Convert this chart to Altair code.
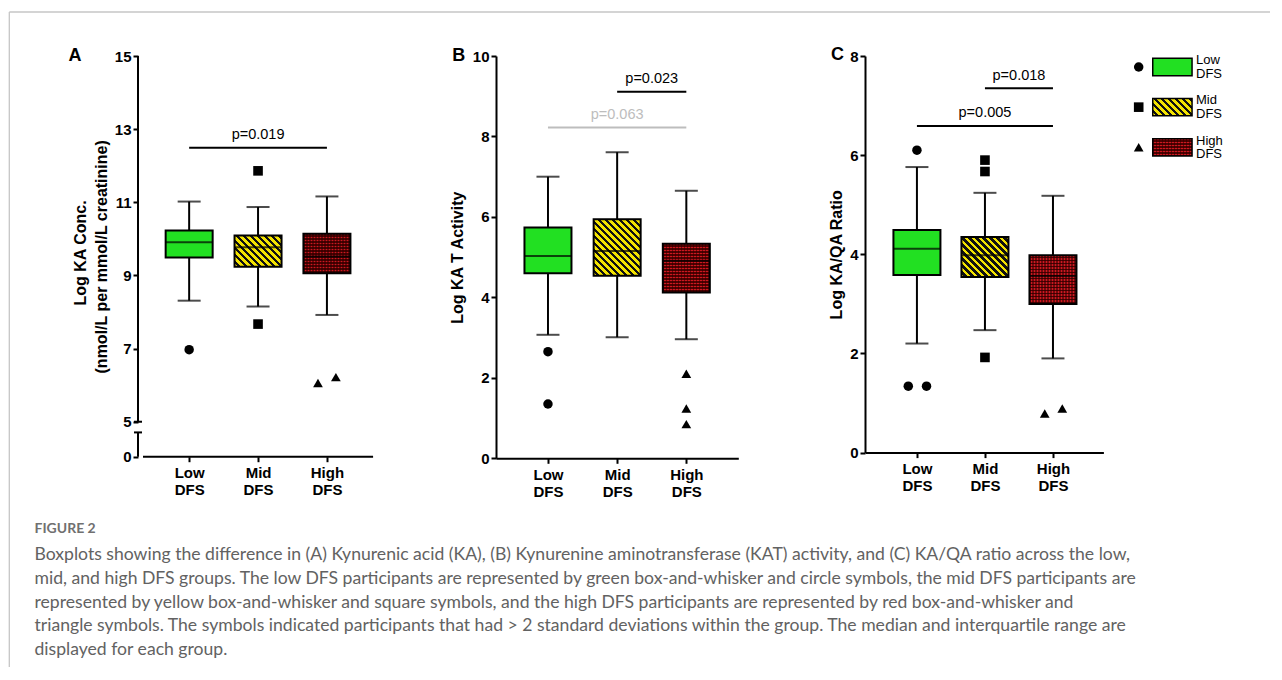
import json
import altair as alt
import pandas as pd

FONT = "Liberation Sans"
CAPTION_FONT = "Lato"

groups = ["Low DFS", "Mid DFS", "High DFS"]
group_pos = [1, 2, 3]
symbol_shapes = ["circle", "square", "triangle-up"]
symbol_sizes = [90, 95, 115]

# ---- Panel A: Log KA concentration ----
ka_whisker_low = [8.31, 8.15, 7.92]
ka_q1 = [9.49, 9.24, 9.06]
ka_median = [9.91, 9.77, 9.52]
ka_q3 = [10.23, 10.09, 10.14]
ka_whisker_high = [11.02, 10.87, 11.16]
ka_out_group = ["Low DFS", "Mid DFS", "Mid DFS", "High DFS", "High DFS"]
ka_out_value = [6.97, 11.86, 7.67, 6.06, 6.22]
ka_out_jitter = [0.0, 0.0, 0.0, -0.13, 0.13]
ka_pair_from = ["Low DFS"]
ka_pair_to = ["High DFS"]
ka_pair_y = [12.49]
ka_pair_text = ["p=0.019"]
ka_pair_tone = ["sig"]
ka_ticks = [0, 5, 7, 9, 11, 13, 15]
ka_title = ["Log KA Conc.", "(nmol/L per mmol/L creatinine)"]

# ---- Panel B: Log KAT activity ----
kat_whisker_low = [3.07, 3.01, 2.96]
kat_q1 = [4.60, 4.54, 4.12]
kat_median = [5.03, 5.15, 4.91]
kat_q3 = [5.74, 5.94, 5.33]
kat_whisker_high = [7.00, 7.61, 6.65]
kat_out_group = ["Low DFS", "Low DFS", "High DFS", "High DFS", "High DFS"]
kat_out_value = [2.65, 1.35, 2.10, 1.24, 0.85]
kat_out_jitter = [0.0, 0.0, 0.0, 0.0, 0.0]
kat_pair_from = ["Mid DFS", "Low DFS"]
kat_pair_to = ["High DFS", "High DFS"]
kat_pair_y = [9.11, 8.22]
kat_pair_text = ["p=0.023", "p=0.063"]
kat_pair_tone = ["sig", "ns"]
kat_ticks = [0, 2, 4, 6, 8, 10]
kat_title = "Log KA T Activity"

# ---- Panel C: Log KA/QA ratio ----
ratio_whisker_low = [2.20, 2.47, 1.90]
ratio_q1 = [3.58, 3.54, 3.00]
ratio_median = [4.11, 3.98, 3.56]
ratio_q3 = [4.49, 4.35, 3.98]
ratio_whisker_high = [5.76, 5.24, 5.18]
ratio_out_group = ["Low DFS", "Low DFS", "Low DFS", "Mid DFS", "Mid DFS", "Mid DFS", "High DFS", "High DFS"]
ratio_out_value = [6.10, 1.34, 1.34, 5.90, 5.67, 1.92, 0.79, 0.89]
ratio_out_jitter = [0.0, -0.127, 0.141, 0.0, 0.0, 0.0, -0.121, 0.137]
ratio_pair_from = ["Mid DFS", "Low DFS"]
ratio_pair_to = ["High DFS", "High DFS"]
ratio_pair_y = [7.35, 6.59]
ratio_pair_text = ["p=0.018", "p=0.005"]
ratio_pair_tone = ["sig", "sig"]
ratio_ticks = [0, 2, 4, 6, 8]
ratio_title = "Log KA/QA Ratio"

caption_header = "FIGURE 2"
caption_lines = [
    "Boxplots showing the difference in (A) Kynurenic acid (KA), (B) Kynurenine aminotransferase (KAT) activity, and (C) KA/QA ratio across the low,",
    "mid, and high DFS groups. The low DFS participants are represented by green box-and-whisker and circle symbols, the mid DFS participants are",
    "represented by yellow box-and-whisker and square symbols, and the high DFS participants are represented by red box-and-whisker and",
    "triangle symbols. The symbols indicated participants that had > 2 standard deviations within the group. The median and interquartile range are",
    "displayed for each group.",
]

# ---- styles ----
GREEN = "#22e022"
YELLOW = "#f3e300"
RED_LIGHT = "#cc1820"
RED_DARK = "#520000"
TONE_COLORS = ["black", "#bdbdbd"]
BOX_W = 47
CAP_W = 23
SPACING = 126
AXIS_TITLE_SIZE = 16
TICK_LABEL_SIZE = 15


def stripe_grad(W, H, period, ca, cb, frac=0.5):
    K = (W * W + H * H) / (W + H)
    N = (W + H) / period
    stops = []
    i = 0
    while i / N < 1:
        t0, t1, t2 = i / N, min((i + frac) / N, 1), min((i + 1) / N, 1)
        stops += [(t0, ca), (t1, ca), (t1, cb), (t2, cb)]
        i += 1
    return alt.LinearGradient(
        gradient="linear", x1=0, y1=1, x2=W / K, y2=1 - H / K,
        stops=[alt.GradientStop(offset=round(o, 5), color=c) for o, c in stops])


def band_grad(length, period, ca, cb, along_y):
    N = length / period
    stops = []
    i = 0
    while i / N < 1:
        t0, t1, t2 = i / N, min((i + 0.5) / N, 1), min((i + 1) / N, 1)
        stops += [(t0, ca), (t1, ca), (t1, cb), (t2, cb)]
        i += 1
    x2, y2 = (0, 1) if along_y else (1, 0)
    return alt.LinearGradient(
        gradient="linear", x1=0, y1=0, x2=x2, y2=y2,
        stops=[alt.GradientStop(offset=round(o, 5), color=c) for o, c in stops])


def group_fills(idx, W, H):
    """Layers of fills that emulate the hatch patterns of each group."""
    if idx == 0:
        return [(GREEN, True)]
    if idx == 1:
        return [(stripe_grad(W, H, 7.0, YELLOW, "#111111", 0.52), True)]
    return [(band_grad(H, 3.0, RED_LIGHT, RED_DARK, True), False),
            (band_grad(W, 3.0, "rgba(40,0,0,0.55)", "rgba(0,0,0,0)", False), True)]


x_label_expr = "split(" + json.dumps([""] + groups) + "[datum.value], ' ')"


def make_panel(wlo, q1, med, q3, whi, og, ov, oj, pf, pt, py, ptext, ptone,
               ydom, yvalues, ylabel_expr, ytitle, title_pad, xdom, width, height,
               letter, letter_x, letter_y, broken=None, extra_title=None):
    ppu = height / (ydom[1] - ydom[0])
    box = pd.DataFrame({"group": groups, "pos": group_pos, "wlo": wlo, "q1": q1,
                        "med": med, "q3": q3, "whi": whi})
    caps = pd.DataFrame({"pos": group_pos * 2, "val": wlo + whi})
    outl = pd.DataFrame({"group": og, "value": ov, "jit": oj,
                         "pos": [group_pos[groups.index(g)] for g in og]})
    pairs = pd.DataFrame({"x0": [group_pos[groups.index(g)] for g in pf],
                          "x1": [group_pos[groups.index(g)] for g in pt],
                          "y": py, "label": ptext, "tone": ptone})

    xaxis = alt.Axis(values=group_pos, labelExpr=x_label_expr, title=None, grid=False,
                     domain=broken is None, tickSize=5, labelPadding=4,
                     labelFontSize=15, labelFontWeight="bold", labelLineHeight=17,
                     labelBaseline="top")
    yaxis = alt.Axis(values=yvalues, labelExpr=ylabel_expr, title=ytitle,
                     titlePadding=title_pad, domain=broken is None, grid=False,
                     tickSize=5, labelPadding=2, titleAlign="center", titleAnchor="middle")
    xs = alt.Scale(domain=xdom, zero=False, nice=False)
    ys = alt.Scale(domain=ydom, zero=False, nice=False)

    def X(f):
        return alt.X(f, type="quantitative", scale=xs, axis=xaxis)

    def Y(f):
        return alt.Y(f, type="quantitative", scale=ys, axis=yaxis)

    layers = []
    layers.append(alt.Chart(box).mark_rule(color="black", strokeWidth=2).encode(
        x=X("pos"), y=Y("wlo"), y2=alt.Y2("whi")))
    layers.append(alt.Chart(caps).mark_tick(orient="horizontal", size=CAP_W, thickness=2,
                                            color="black").encode(x=X("pos"), y=Y("val")))
    for i, g in enumerate(groups):
        H = (q3[i] - q1[i]) * ppu
        for fill, stroked in group_fills(i, BOX_W, H):
            props = dict(size=BOX_W, fill=fill, opacity=1)
            if stroked:
                props.update(stroke="black", strokeWidth=2)
            else:
                props.update(strokeWidth=0)
            layers.append(alt.Chart(box).transform_filter(alt.datum.group == g)
                          .mark_bar(**props)
                          .encode(x=X("pos"), y=Y("q1"), y2=alt.Y2("q3")))
    layers.append(alt.Chart(box).mark_tick(orient="horizontal", size=BOX_W, thickness=2,
                                           color="black").encode(x=X("pos"), y=Y("med")))
    layers.append(alt.Chart(outl).transform_calculate(xo="datum.pos + datum.jit")
                  .mark_point(filled=True, color="black", opacity=1)
                  .encode(x=X("xo"), y=Y("value"),
                          shape=alt.Shape("group:N", scale=alt.Scale(domain=groups, range=symbol_shapes), legend=None),
                          size=alt.Size("group:N", scale=alt.Scale(domain=groups, range=symbol_sizes), legend=None)))
    tone_scale = alt.Scale(domain=["sig", "ns"], range=TONE_COLORS)
    layers.append(alt.Chart(pairs).mark_rule(strokeWidth=2).encode(
        x=X("x0"), x2=alt.X2("x1"), y=Y("y"),
        color=alt.Color("tone:N", scale=tone_scale, legend=None)))
    layers.append(alt.Chart(pairs).transform_calculate(xm="(datum.x0 + datum.x1) / 2")
                  .mark_text(font=FONT, fontSize=14.5, baseline="middle", dy=-12.5)
                  .encode(x=X("xm"), y=Y("y"), text="label:N",
                          color=alt.Color("tone:N", scale=tone_scale, legend=None)))
    layers.append(alt.Chart(pd.DataFrame({"t": [letter]})).mark_text(
        font=FONT, fontSize=18, fontWeight="bold", baseline="middle", align="center",
        color="black").encode(x=alt.value(letter_x), y=alt.value(letter_y), text="t:N"))
    if extra_title is not None:
        txt, tx, ty = extra_title
        layers.append(alt.Chart(pd.DataFrame({"t": [txt]})).mark_text(
            font=FONT, fontSize=AXIS_TITLE_SIZE, fontWeight="bold", baseline="middle",
            align="center", angle=270, color="black").encode(
            x=alt.value(tx), y=alt.value(ty), text="t:N"))

    if broken is not None:
        zero_at, cap_at, axis_start, axis_end = broken
        segs = pd.DataFrame({"y0": [yvalues[1], zero_at], "y1": [ydom[1], cap_at]})
        layers.append(alt.Chart(segs).mark_rule(color="black", strokeWidth=2).encode(
            x=alt.value(0), y=Y("y0"), y2=alt.Y2("y1")))
        capdf = pd.DataFrame({"y": [cap_at, yvalues[1]]})
        layers.append(alt.Chart(capdf).mark_rule(color="black", strokeWidth=2).encode(
            x=alt.value(-4), x2=alt.value(4), y=Y("y")))
        base = pd.DataFrame({"x0": [axis_start], "x1": [axis_end], "y": [zero_at]})
        layers.append(alt.Chart(base).mark_rule(color="black", strokeWidth=2).encode(
            x=X("x0"), x2=alt.X2("x1"), y=Y("y")))

    return alt.layer(*layers).properties(width=width, height=height)


# Panel A with broken axis (0 then 5..15)
A_ZERO = 4.044
A_CAP = 4.708
A_H = 400.7
panel_a = make_panel(ka_whisker_low, ka_q1, ka_median, ka_q3, ka_whisker_high,
                     ka_out_group, ka_out_value, ka_out_jitter,
                     ka_pair_from, ka_pair_to, ka_pair_y, ka_pair_text, ka_pair_tone,
                     [A_ZERO, 15], [A_ZERO] + ka_ticks[1:],
                     "datum.value < 4.5 ? '0' : datum.label",
                     ka_title[1], 5,
                     [0.33, 0.33 + 231.3 / 72], 231.3, A_H, "A", -63, 0,
                     broken=(A_ZERO, A_CAP, 0.33, 3.67),
                     extra_title=(ka_title[0], -57.3, 197))

panel_b = make_panel(kat_whisker_low, kat_q1, kat_median, kat_q3, kat_whisker_high,
                     kat_out_group, kat_out_value, kat_out_jitter,
                     kat_pair_from, kat_pair_to, kat_pair_y, kat_pair_text, kat_pair_tone,
                     [0, 10], kat_ticks, "datum.label", kat_title, 6.4,
                     [0.321, 3.679], 242.3, 402.3, "B", -37.3, 0)

panel_c = make_panel(ratio_whisker_low, ratio_q1, ratio_median, ratio_q3, ratio_whisker_high,
                     ratio_out_group, ratio_out_value, ratio_out_jitter,
                     ratio_pair_from, ratio_pair_to, ratio_pair_y, ratio_pair_text, ratio_pair_tone,
                     [0, 8], ratio_ticks, "datum.label", ratio_title, 4.8,
                     [0.31, 3.668], 238.4, 396.6, "C", -27.6, -1)

# Frame + caption attached to panel A (positions relative to its plot origin)
one = pd.DataFrame({"k": [0]})
frame_color = "#c6c6c6"
frame_top = alt.Chart(one).mark_rule(color=frame_color, strokeWidth=1.3).encode(
    x=alt.value(-128.7), x2=alt.value(1132), y=alt.value(-44))
frame_left = alt.Chart(one).mark_rule(color=frame_color, strokeWidth=1.3).encode(
    x=alt.value(-128.7), y=alt.value(-44), y2=alt.value(611))
header = alt.Chart(pd.DataFrame({"t": [caption_header]})).mark_text(
    font=CAPTION_FONT, fontSize=14, fontWeight="bold", color="#707070", align="left",
    baseline="middle").encode(x=alt.value(-103.5), y=alt.value(473), text="t:N")
cap_df = pd.DataFrame({"line": list(range(len(caption_lines))), "text": caption_lines})
caption = alt.Chart(cap_df).mark_text(
    font=CAPTION_FONT, fontSize=17.6, color="#626262", align="left", baseline="middle").encode(
    x=alt.value(-103.5),
    y=alt.Y("line:O", scale=alt.Scale(type="point", range=[499, 594], padding=0), axis=None),
    text="text:N")

panel_a_full = alt.layer(panel_a, frame_top, frame_left, header, caption).resolve_scale(y="independent")

# Legend cell (to the right of panel C)
leg_df = pd.DataFrame({"group": groups})
LY = alt.Y("group:N", scale=alt.Scale(type="point", domain=groups, range=[11, 91.3], padding=0), axis=None)
SW_W, SW_H = 39.3, 17.3
swatch_path = "M-1,-0.44L1,-0.44L1,0.44L-1,0.44Z"
leg_layers = [alt.Chart(leg_df).mark_point(filled=True, color="black", opacity=1).encode(
    x=alt.value(-91.3), y=LY,
    shape=alt.Shape("group:N", scale=alt.Scale(domain=groups, range=symbol_shapes), legend=None),
    size=alt.Size("group:N", scale=alt.Scale(domain=groups, range=[100, 105, 120]), legend=None))]
for i, g in enumerate(groups):
    for fill, stroked in group_fills(i, SW_W, SW_H):
        props = dict(shape=swatch_path, size=SW_W * SW_W, filled=True, fill=fill, opacity=1)
        if stroked:
            props.update(stroke="black", strokeWidth=1.5)
        else:
            props.update(strokeWidth=0)
        leg_layers.append(alt.Chart(leg_df).transform_filter(alt.datum.group == g)
                          .mark_point(**props).encode(x=alt.value(-57.6), y=LY))
leg_layers.append(alt.Chart(leg_df).mark_text(
    font=FONT, fontSize=13, align="left", baseline="middle", lineBreak=" ", lineHeight=13.5,
    dy=-6.7, color="black").encode(x=alt.value(-34), y=LY, text="group:N"))
legend_cell = alt.layer(*leg_layers).properties(width=10, height=100)

chart = alt.hconcat(panel_a_full, panel_b, panel_c, legend_cell, spacing=SPACING,
                    bounds="flush").properties(
    padding={"left": 0, "top": 3, "right": 0, "bottom": 0}
).configure_view(stroke=None).configure_axis(
    domainColor="black", domainWidth=2, tickColor="black", tickWidth=2,
    labelColor="black", titleColor="black", labelFont=FONT, titleFont=FONT,
    labelFontSize=TICK_LABEL_SIZE, labelFontWeight="bold", titleFontSize=AXIS_TITLE_SIZE,
    titleFontWeight="bold", grid=False)

chart.save("out.html", embed_options={"renderer": "svg", "actions": False})
